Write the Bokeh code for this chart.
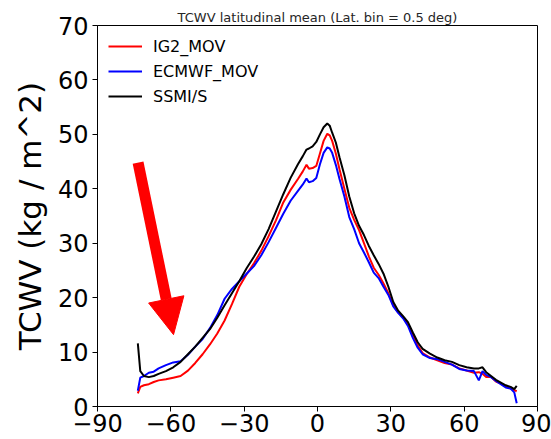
from bokeh.plotting import figure
from bokeh.models import Range1d, FixedTicker, Legend, LegendItem, Arrow, NormalHead
from bokeh.embed import file_html
from bokeh.resources import INLINE

# ---- data ----
lat = [-73.5, -72.5, -71, -69, -67, -65, -62, -59, -56, -53, -50, -47, -44, -41, -38, -35,
       -32, -29, -26, -23, -20, -17, -14, -11, -8, -6, -4.5, -3.5, -2, -0.5, 1, 2.5, 4, 5,
       6, 7.5, 9, 11, 13, 15, 17, 19, 21, 23, 25, 27, 29, 31, 33, 35, 37, 39, 41, 43, 46,
       49, 52, 55, 58, 61, 64, 66, 67.5, 69, 71, 73, 75, 77, 79, 80.5, 81.5]

ig2_mov = [2.4, 3.6, 3.9, 4.1, 4.5, 4.8, 5.0, 5.3, 5.6, 6.6, 8.0, 9.6, 11.4, 13.4, 15.8, 18.8,
           22.0, 24.3, 26.3, 28.6, 31.3, 34.2, 37.5, 39.8, 41.8, 43.2, 44.4, 43.7, 43.8, 44.2,
           46.5, 48.8, 50.1, 49.8, 48.8, 46.5, 43.6, 40.0, 36.5, 34.3, 32.4, 30.0, 27.6, 25.5,
           24.2, 22.6, 20.8, 18.6, 17.3, 16.4, 15.2, 13.2, 11.2, 9.8, 9.0, 8.5, 8.0, 7.7, 7.0,
           6.6, 6.2, 6.3, 6.0, 5.4, 5.4, 4.6, 4.2, 3.7, 3.3, 3.0, 2.8]

ecmwf_mov = [2.9, 5.3, 5.6, 6.2, 6.4, 7.0, 7.6, 8.1, 8.3, 9.5, 11.0, 12.4, 14.4, 16.8, 19.8, 21.6,
             23.0, 24.4, 25.8, 27.8, 30.2, 32.8, 35.4, 37.8, 39.6, 40.8, 41.9, 41.2, 41.4, 42.0,
             44.5, 46.6, 47.6, 47.4, 46.6, 44.4, 41.8, 38.6, 34.8, 32.6, 30.0, 28.3, 26.5, 24.6,
             23.6, 22.0, 20.5, 18.4, 17.2, 16.2, 14.8, 12.6, 10.8, 9.6, 8.9, 8.7, 8.2, 7.7, 6.9,
             6.6, 6.5, 4.8, 6.5, 5.8, 5.4, 4.7, 4.1, 3.5, 3.3, 2.6, 0.6]

ssmis = [11.6, 6.5, 5.6, 5.4, 5.6, 6.0, 6.5, 7.2, 8.2, 9.6, 11.0, 12.6, 14.2, 16.3, 18.6, 20.8,
         23.0, 25.4, 27.5, 29.8, 32.6, 35.8, 39.0, 42.0, 44.5, 46.0, 47.2, 47.4, 47.8, 48.6,
         50.0, 51.3, 52.0, 51.6, 50.3, 48.5, 45.8, 42.5, 38.6, 35.5, 33.2, 31.5, 29.5, 27.8,
         26.2, 24.4, 22.0, 19.2, 17.6, 16.6, 15.5, 13.6, 11.8, 10.6, 9.7, 9.0, 8.5, 8.2, 7.6,
         7.2, 7.0, 7.0, 7.2, 6.3, 5.6, 4.9, 4.4, 3.9, 3.6, 3.2, 3.8]

series_names = ["IG2_MOV", "ECMWF_MOV", "SSMI/S"]
series_colors = ["#ff0000", "#0000ff", "#000000"]

x_ticks = [-90, -60, -30, 0, 30, 60, 90]
y_ticks = [0, 10, 20, 30, 40, 50, 60, 70]

arrow_start = (-73.4, 44.8)
arrow_end = (-58.9, 13.2)

FONT = "DejaVu Sans"

p = figure(width=551, height=439, output_backend="svg", toolbar_location=None,
           x_range=Range1d(-90, 90), y_range=Range1d(0, 70),
           min_border_left=97, min_border_right=14, min_border_top=25, min_border_bottom=33)

p.title.text = "TCWV latitudinal mean (Lat. bin = 0.5 deg)"
p.title.text_font = FONT
p.title.text_font_size = "13px"
p.title.text_font_style = "normal"
p.title.text_color = "#262626"
p.title.align = "center"
p.title.standoff = 2
p.title.offset = 0

p.xgrid.visible = False
p.ygrid.visible = False
p.outline_line_color = "black"
p.outline_line_width = 1
p.outline_line_alpha = 1
p.background_fill_color = "white"
p.border_fill_color = "white"

for ax in (p.xaxis[0], p.yaxis[0]):
    ax.axis_line_color = "black"
    ax.major_tick_line_color = "black"
    ax.major_tick_out = 5
    ax.major_tick_in = 0
    ax.minor_tick_line_color = None
    ax.major_label_text_font = FONT
    ax.major_label_text_font_size = "24px"
    ax.major_label_text_color = "black"

p.xaxis[0].ticker = FixedTicker(ticks=x_ticks)
p.yaxis[0].ticker = FixedTicker(ticks=y_ticks)
p.xaxis[0].major_label_overrides = {t: (str(t).replace("-", "\u2212")) for t in x_ticks}
p.xaxis[0].major_label_standoff = 2
p.yaxis[0].major_label_standoff = 4

p.yaxis[0].axis_label = "TCWV (kg / m^2)"
p.yaxis[0].axis_label_text_font = FONT
p.yaxis[0].axis_label_text_font_size = "31px"
p.yaxis[0].axis_label_text_font_style = "normal"
p.yaxis[0].axis_label_text_color = "black"
p.yaxis[0].axis_label_standoff = 7

renderers = []
for vals, color in zip([ig2_mov, ecmwf_mov, ssmis], series_colors):
    r = p.line(lat, vals, line_color=color, line_width=2)
    renderers.append(r)

legend = Legend(items=[LegendItem(label=n, renderers=[r]) for n, r in zip(series_names, renderers)],
                location="top_left", margin=11, padding=0, spacing=5,
                glyph_width=34, glyph_height=20, label_standoff=11,
                label_text_font=FONT, label_text_font_size="16px", label_text_color="black",
                border_line_color=None, background_fill_alpha=0)
p.add_layout(legend)

arrow = Arrow(end=NormalHead(size=36, fill_color="#ff0000", line_color="#ff0000", line_width=1),
              x_start=arrow_start[0], y_start=arrow_start[1],
              x_end=arrow_end[0], y_end=arrow_end[1],
              line_color="#ff0000", line_width=11)
p.add_layout(arrow)

open("out.html", "w").write(file_html(p, INLINE))
